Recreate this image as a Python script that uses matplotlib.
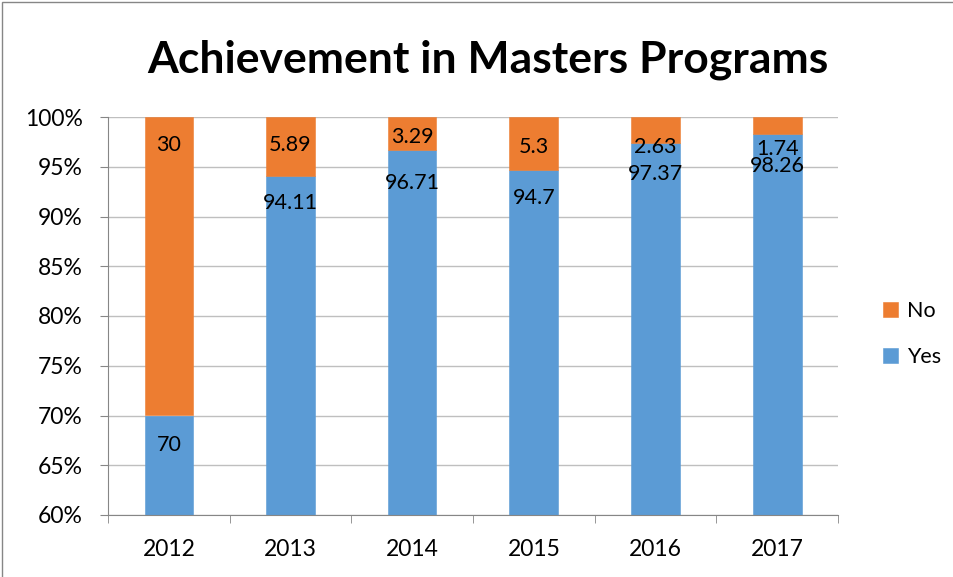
import matplotlib.pyplot as plt
from matplotlib.patches import Rectangle
from matplotlib.ticker import FuncFormatter

plt.rcParams['font.family'] = ['Lato', 'DejaVu Sans']

years = ['2012', '2013', '2014', '2015', '2016', '2017']
yes = [70, 94.11, 96.71, 94.7, 97.37, 98.26]
no = [30, 5.89, 3.29, 5.3, 2.63, 1.74]
# where the data labels sit in the original (percent)
yes_label_y = [67.0, 91.4, 93.4, 91.9, 94.3, 95.1]
no_label_y = [97.2, 97.2, 98.0, 97.0, 97.0, 96.8]

blue = '#5B9BD5'
orange = '#ED7D31'

fig = plt.figure(figsize=(9.54, 5.77), dpi=100)
ax = fig.add_axes([108 / 954, 1 - 515 / 577, 730 / 954, 398 / 577])

x = range(len(years))
ax.bar(x, yes, width=0.4, color=blue, edgecolor=blue, label='Yes', linewidth=0.4, zorder=2)
ax.bar(x, no, width=0.4, bottom=yes, color=orange, edgecolor=orange, label='No', linewidth=0.4, zorder=2)

for i in x:
    ax.text(i, yes_label_y[i], f'{yes[i]:g}', ha='center', va='center', fontsize=15.5, zorder=3)
    ax.text(i, no_label_y[i], f'{no[i]:g}', ha='center', va='center', fontsize=15.5, zorder=3)

ax.set_ylim(60, 100)
ax.set_xlim(-0.5, len(years) - 0.5)
ax.set_yticks(range(60, 101, 5))
ax.yaxis.set_major_formatter(FuncFormatter(lambda v, p: f'{v:.0f}%'))
ax.grid(axis='y', color='#BFBFBF', linewidth=1, zorder=0)

ax.set_xticks(list(x))
ax.set_xticklabels(years)
ax.set_xticks([i - 0.5 for i in range(len(years) + 1)], minor=True)
ax.tick_params(axis='x', which='major', length=0, labelsize=16.5, pad=17)
ax.tick_params(axis='x', which='minor', length=6, color='#868686')
ax.tick_params(axis='y', length=6, color='#868686', labelsize=16.5, pad=12)

for s in ['top', 'right']:
    ax.spines[s].set_visible(False)
for s in ['left', 'bottom']:
    ax.spines[s].set_color('#868686')

fig.text(488 / 954, 1 - 60 / 577, 'Achievement in Masters Programs', fontsize=32, fontweight='bold',
         ha='center', va='center')

handles, labels = ax.get_legend_handles_labels()
fig.legend(handles[::-1], labels[::-1], loc='center left', bbox_to_anchor=(864 / 954, 1 - 334 / 577),
           frameon=False, fontsize=15.5, handlelength=0.7, handleheight=0.7, handletextpad=0.4,
           labelspacing=1.2)

# chart frame
fig.patches.append(Rectangle((2 / 954, -0.01), 1.02, 1 - 2 / 577 + 0.01, transform=fig.transFigure,
                             fill=False, edgecolor='#868686', linewidth=1))

plt.savefig('out.png', dpi=100)
